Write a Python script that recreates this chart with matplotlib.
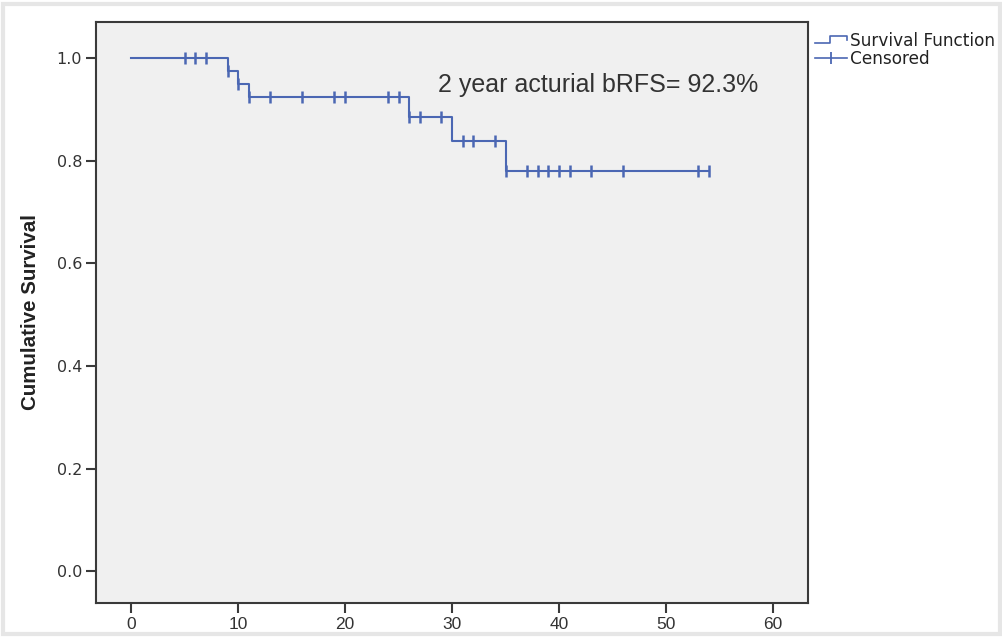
import matplotlib
matplotlib.use("Agg")
import matplotlib.pyplot as plt
from matplotlib.lines import Line2D
from matplotlib.legend_handler import HandlerBase
from matplotlib.patches import Rectangle

# ---- data ----
event_times = [0, 9, 10, 11, 26, 30, 35]
survival = [1.0, 0.975, 0.950, 0.923, 0.884, 0.838, 0.780]
end_time = 54
censor_times = [5, 6, 7, 9, 10, 11, 13, 16, 19, 20, 24, 25, 26, 27, 29,
                31, 32, 34, 35, 37, 38, 39, 40, 41, 43, 46, 53, 54]
x_ticks = [0, 10, 20, 30, 40, 50, 60]
y_ticks = [0.0, 0.2, 0.4, 0.6, 0.8, 1.0]
annotation = "2 year acturial bRFS= 92.3%"
ylabel = "Cumulative Survival"
legend_labels = ["Survival Function", "Censored"]

BLUE = "#4b67b3"
DARK = "#3a3a3a"


def surv_at(t):
    s = survival[0]
    for et, sv in zip(event_times, survival):
        if t >= et:
            s = sv
    return s


fig = plt.figure(figsize=(10.03, 6.37), dpi=100)
fig.patch.set_facecolor("white")
ax = fig.add_axes([0.0957, 0.0534, 0.7100, 0.9121])
ax.set_facecolor("#f0f0f0")

xs = list(event_times) + [end_time]
ys = list(survival) + [survival[-1]]
ax.step(xs, ys, where="post", color=BLUE, lw=1.5, zorder=3)
ax.plot(censor_times, [surv_at(t) for t in censor_times], linestyle="none",
        marker="|", markersize=9, markeredgewidth=1.8, color=BLUE, zorder=4)

ax.set_xlim(-3.3, 63.3)
ax.set_ylim(-0.062, 1.070)
ax.set_xticks(x_ticks)
ax.set_xticklabels([str(v) for v in x_ticks],
                   family="Liberation Sans", fontsize=12.5, color="#333333")
ax.set_yticks(y_ticks)
ax.set_yticklabels([f"{v:.1f}" for v in y_ticks], family="DejaVu Sans",
                   fontsize=11.5, color="#333333")
ax.tick_params(axis="both", direction="out", length=7, width=1.5, color=DARK, pad=3)
for sp in ax.spines.values():
    sp.set_color(DARK)
    sp.set_linewidth(1.5)

ax.set_ylabel(ylabel, family="Liberation Sans",
              fontweight="bold", fontsize=14.8, color="#222222", labelpad=12)

ax.text(28.7, 0.947, annotation, family="Liberation Sans", fontsize=18,
        color="#333333", va="center", ha="left")


class StepHandler(HandlerBase):
    def create_artists(self, legend, orig_handle, xdescent, ydescent,
                       width, height, fontsize, trans):
        x0 = -xdescent
        y0 = -ydescent
        w = width
        h = height
        xs_ = [x0, x0 + 0.45 * w, x0 + 0.45 * w, x0 + w, x0 + w]
        ys_ = [y0 + 0.25 * h, y0 + 0.25 * h, y0 + 0.8 * h, y0 + 0.8 * h, y0 + 0.45 * h]
        ln = Line2D(xs_, ys_, color=BLUE, lw=1.2, transform=trans)
        return [ln]


class CensorHandler(HandlerBase):
    def create_artists(self, legend, orig_handle, xdescent, ydescent,
                       width, height, fontsize, trans):
        x0 = -xdescent
        y0 = -ydescent
        ln = Line2D([x0, x0 + width], [y0 + height / 2] * 2, color=BLUE, lw=1.2,
                    transform=trans)
        mk = Line2D([x0 + width / 2], [y0 + height / 2], marker="|", markersize=9,
                    markeredgewidth=1.3, color=BLUE, transform=trans)
        return [ln, mk]


h1 = Line2D([], [], color=BLUE)
h2 = Line2D([], [], color=BLUE, marker="|")
leg = fig.legend([h1, h2], legend_labels,
                 handler_map={h1: StepHandler(), h2: CensorHandler()},
                 loc="upper left", bbox_to_anchor=(0.811, 0.953),
                 frameon=False, prop={"family": "DejaVu Sans", "size": 12.2},
                 handlelength=1.9, handletextpad=0.15, labelspacing=0.0,
                 borderaxespad=0, borderpad=0.1)
for t in leg.get_texts():
    t.set_color("#222222")

# light outer border of the image
fig.patches.append(Rectangle((0.003, 0.004), 0.994, 0.99, transform=fig.transFigure,
                             fill=False, edgecolor="#e6e6e6", lw=3))

fig.savefig("out.png", dpi=100, facecolor=fig.get_facecolor())
